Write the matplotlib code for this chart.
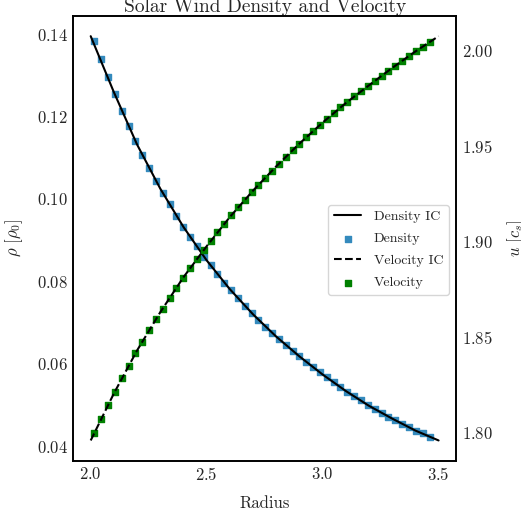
import matplotlib
matplotlib.use("Agg")
import matplotlib.pyplot as plt
import seaborn as sns

# simulation sample points (radius)
r = [2.015, 2.045, 2.074, 2.104, 2.133, 2.163, 2.192, 2.222, 2.251, 2.281,
     2.310, 2.340, 2.369, 2.399, 2.428, 2.458, 2.487, 2.517, 2.546, 2.576,
     2.605, 2.635, 2.664, 2.694, 2.723, 2.753, 2.782, 2.812, 2.841, 2.871,
     2.900, 2.930, 2.959, 2.989, 3.018, 3.048, 3.077, 3.107, 3.136, 3.166,
     3.195, 3.225, 3.254, 3.284, 3.313, 3.343, 3.372, 3.402, 3.431, 3.461]
rho = [0.1384, 0.1339, 0.1295, 0.1254, 0.1214, 0.1177, 0.1141, 0.1107, 0.1075, 0.1044,
       0.1015, 0.0987, 0.0959, 0.0933, 0.0908, 0.0885, 0.0860, 0.0839, 0.0818, 0.0797,
       0.0778, 0.0759, 0.0741, 0.0724, 0.0706, 0.0690, 0.0675, 0.0660, 0.0646, 0.0632,
       0.0618, 0.0605, 0.0592, 0.0579, 0.0567, 0.0555, 0.0543, 0.0532, 0.0521, 0.0511,
       0.0500, 0.0490, 0.0481, 0.0472, 0.0463, 0.0454, 0.0446, 0.0438, 0.0431, 0.0423]
u = [1.7998, 1.8071, 1.8145, 1.8216, 1.8286, 1.8353, 1.8416, 1.8477, 1.8538, 1.8596,
     1.8650, 1.8706, 1.8760, 1.8813, 1.8861, 1.8911, 1.8956, 1.9003, 1.9049, 1.9092,
     1.9138, 1.9180, 1.9220, 1.9259, 1.9299, 1.9334, 1.9372, 1.9409, 1.9446, 1.9479,
     1.9514, 1.9547, 1.9579, 1.9612, 1.9643, 1.9673, 1.9703, 1.9732, 1.9761, 1.9787,
     1.9815, 1.9841, 1.9869, 1.9895, 1.9921, 1.9948, 1.9972, 1.9997, 2.0021, 2.0044]

# initial condition curves
r_ic = [2.0, 2.1, 2.2, 2.3, 2.4, 2.5, 2.6, 2.7, 2.8, 2.9, 3.0, 3.1, 3.2, 3.3, 3.4, 3.5]
rho_ic = [0.1395, 0.1259, 0.1132, 0.1025, 0.0932, 0.0851, 0.0781, 0.0720,
          0.0666, 0.0618, 0.0574, 0.0534, 0.0498, 0.0467, 0.0438, 0.0414]
u_ic = [1.7961, 1.8207, 1.8432, 1.8632, 1.8815, 1.8977, 1.9130, 1.9268,
        1.9395, 1.9514, 1.9624, 1.9726, 1.9819, 1.9910, 1.9996, 2.0076]

sns.set_style("white")
plt.rcParams['font.family'] = 'serif'
plt.rcParams['font.serif'] = ['cmr10']
plt.rcParams['mathtext.fontset'] = 'cm'
plt.rcParams['axes.formatter.use_mathtext'] = True
plt.rcParams['axes.unicode_minus'] = False

fig = plt.figure(figsize=(5.21, 5.15), dpi=100)
ax = fig.add_axes([0.1407, 0.1055, 0.7345, 0.8635])
ax2 = ax.twinx()

l1, = ax.plot(r_ic, rho_ic, color='black', lw=1.5, label='Density IC')
s1 = ax.scatter(r, rho, marker='s', s=20, color='#348ABD', label='Density')
l2, = ax2.plot(r_ic, u_ic, color='black', ls='--', lw=1.5, label='Velocity IC')
s2 = ax2.scatter(r, u, marker='s', s=20, color='green', label='Velocity')

ax.set_xlabel('Radius', fontsize=12, labelpad=9)
ax.set_ylabel(r'$\rho\ [\rho_0]$', fontsize=12, labelpad=8)
ax2.set_ylabel(r'$u\ [c_s]$', fontsize=12, labelpad=9)
ax.set_title('Solar Wind Density and Velocity', fontsize=14, pad=1)
ax.set_xticks([2.0, 2.5, 3.0, 3.5])
ax.set_yticks([0.04, 0.06, 0.08, 0.10, 0.12, 0.14])
ax2.set_yticks([1.80, 1.85, 1.90, 1.95, 2.00])
ax.tick_params(labelsize=12, length=0, pad=4)
ax2.tick_params(labelsize=12, length=0, pad=4)
for a in (ax, ax2):
    for sp in a.spines.values():
        sp.set_color('black')
        sp.set_linewidth(1.2)

ax2.legend([l1, s1, l2, s2], ['Density IC', 'Density', 'Velocity IC', 'Velocity'],
           loc='center right', bbox_to_anchor=(1.0, 0.474), fontsize=10,
           labelspacing=0.67, handletextpad=0.9)

fig.savefig('out.png', dpi=100)
